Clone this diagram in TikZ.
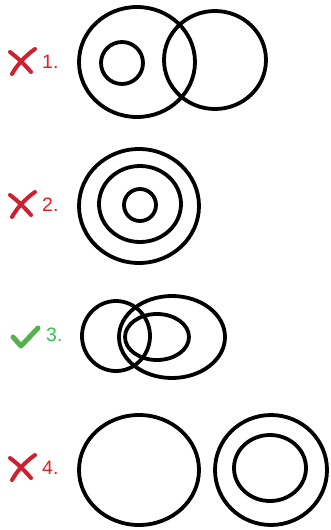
\documentclass[tikz,border=0pt]{standalone}
\usepackage{fontspec}
\setmainfont{Liberation Sans}
\usetikzlibrary{positioning}
\definecolor{MarkRed}{RGB}{232,28,36}
\definecolor{CrossRed}{RGB}{206,32,46}
\definecolor{MarkGreen}{RGB}{52,196,78}
\definecolor{TickGreen}{RGB}{86,176,76}

\begin{document}
\begin{tikzpicture}[x=1pt, y=-1pt,
          ring/.style={draw=black, line width=3.8pt},
          num/.style={font=\fontsize{19.5}{22}\selectfont, anchor=west,
                      inner sep=0pt},
          wrong/.style={num, text=MarkRed},
          good/.style={num, text=MarkGreen},
          xstroke/.style={CrossRed, line width=4pt, line cap=round},
          tick/.style={TickGreen, line width=5pt, line cap=round,
                       line join=round}
        ]
        \useasboundingbox (0,0) rectangle (331,530);

        % 1. two overlapping circles, small one inside the left
        \node[wrong] (n1) at (42,62) {1.};
        \draw[xstroke] (10,52) .. controls (18,58) and (25,65) .. (31,72);
        \draw[xstroke] (35,49) .. controls (25,56) and (17,65) .. (12,74);
        \draw[ring] (137,62) ellipse (58 and 55);
        \draw[ring] (122,63) circle (21);
        \draw[ring] (215,60) ellipse (51 and 49);

        % 2. three nested circles
        \node[wrong] (n2) at (42,205) {2.};
        \draw[xstroke] (10,195) .. controls (18,201) and (25,208) .. (31,215);
        \draw[xstroke] (35,192) .. controls (25,199) and (17,208) .. (12,217);
        \draw[ring] (139,206) ellipse (60 and 57);
        \draw[ring] (140,204) ellipse (41 and 38);
        \draw[ring] (140,205) circle (16);

        % 3. overlapping circle and nested ellipses
        \node[good] (n3) at (46,335) {3.};
        \draw[tick] (13,337) -- (21,346) -- (38,328);
        \draw[ring] (116,336) ellipse (34 and 35);
        \draw[ring] (172,337) ellipse (53 and 41);
        \draw[ring] (157,337) ellipse (32 and 23);

        % 4. separate circle and a nested pair
        \node[wrong] (n4) at (42,468) {4.};
        \draw[xstroke] (10,458) .. controls (18,464) and (25,471) .. (31,478);
        \draw[xstroke] (35,455) .. controls (25,462) and (17,471) .. (12,480);
        \draw[ring] (139,470) ellipse (60 and 55);
        \draw[ring] (271,470) ellipse (56 and 55);
        \draw[ring] (270,468) ellipse (36 and 33);
      \end{tikzpicture}
\end{document}
